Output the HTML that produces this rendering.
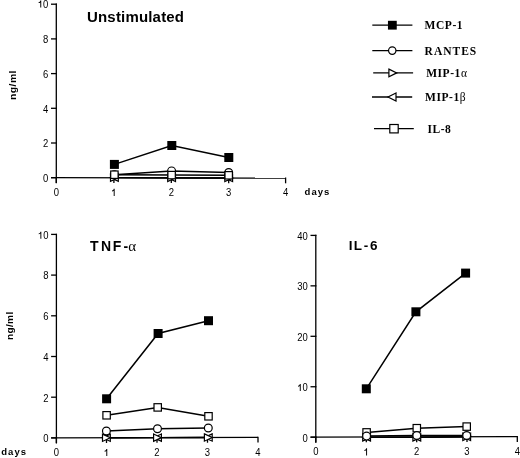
<!DOCTYPE html>
<html><head><meta charset="utf-8"><title>Chemokine production</title>
<style>
html,body{margin:0;padding:0;background:#fff;}
body{width:520px;height:458px;overflow:hidden;font-family:"Liberation Sans",sans-serif;}
svg{display:block;will-change:transform;}
</style></head>
<body>
<svg width="520" height="458" viewBox="0 0 520 458">
<rect width="520" height="458" fill="#fff"/>
<line x1="56.30" y1="3.60" x2="56.30" y2="183.30" stroke="#000" stroke-width="1.3"/>
<line x1="51.00" y1="177.70" x2="285.60" y2="178.10" stroke="#000" stroke-width="1.3"/>
<line x1="51.00" y1="177.70" x2="56.90" y2="177.70" stroke="#000" stroke-width="1.3"/>
<text transform="translate(43.12 182.05) scale(0.95 1)" font-family='"Liberation Sans", sans-serif' font-size="10">0</text>
<line x1="51.00" y1="143.00" x2="56.90" y2="143.00" stroke="#000" stroke-width="1.3"/>
<text transform="translate(43.12 147.35) scale(0.95 1)" font-family='"Liberation Sans", sans-serif' font-size="10">2</text>
<line x1="51.00" y1="108.30" x2="56.90" y2="108.30" stroke="#000" stroke-width="1.3"/>
<text transform="translate(43.12 112.65) scale(0.95 1)" font-family='"Liberation Sans", sans-serif' font-size="10">4</text>
<line x1="51.00" y1="73.60" x2="56.90" y2="73.60" stroke="#000" stroke-width="1.3"/>
<text transform="translate(43.12 77.95) scale(0.95 1)" font-family='"Liberation Sans", sans-serif' font-size="10">6</text>
<line x1="51.00" y1="38.90" x2="56.90" y2="38.90" stroke="#000" stroke-width="1.3"/>
<text transform="translate(43.12 43.25) scale(0.95 1)" font-family='"Liberation Sans", sans-serif' font-size="10">8</text>
<line x1="51.00" y1="4.20" x2="56.90" y2="4.20" stroke="#000" stroke-width="1.3"/>
<path d="M40.29 0.46 H41.24 V7.55 H40.29 V2.40 C39.84 2.80 39.24 3.00 38.59 3.10 V2.25 C39.59 2.10 40.19 1.55 40.29 0.46 Z" fill="#000"/>
<text transform="translate(43.12 7.55) scale(0.95 1)" font-family='"Liberation Sans", sans-serif' font-size="10">0</text>
<line x1="56.30" y1="177.10" x2="56.30" y2="182.90" stroke="#000" stroke-width="1.3"/>
<text transform="translate(53.66 195.90) scale(0.95 1)" font-family='"Liberation Sans", sans-serif' font-size="10">0</text>
<line x1="113.90" y1="177.20" x2="113.90" y2="183.00" stroke="#000" stroke-width="1.3"/>
<path d="M113.71 188.81 H114.66 V195.90 H113.71 V190.75 C113.26 191.15 112.66 191.35 112.01 191.45 V190.60 C113.01 190.45 113.61 189.90 113.71 188.81 Z" fill="#000"/>
<line x1="171.30" y1="177.30" x2="171.30" y2="183.10" stroke="#000" stroke-width="1.3"/>
<text transform="translate(168.66 195.90) scale(0.95 1)" font-family='"Liberation Sans", sans-serif' font-size="10">2</text>
<line x1="228.70" y1="177.40" x2="228.70" y2="183.20" stroke="#000" stroke-width="1.3"/>
<text transform="translate(226.06 195.90) scale(0.95 1)" font-family='"Liberation Sans", sans-serif' font-size="10">3</text>
<line x1="285.60" y1="177.50" x2="285.60" y2="183.30" stroke="#000" stroke-width="1.3"/>
<text transform="translate(282.96 195.90) scale(0.95 1)" font-family='"Liberation Sans", sans-serif' font-size="10">4</text>
<text x="87" y="21.6" font-family='"Liberation Sans", sans-serif' font-size="15" font-weight="bold" letter-spacing="0.18">Unstimulated</text>
<path d="M114.40 177.70 L171.60 177.80 L228.70 178.00" fill="none" stroke="#000" stroke-width="1.3"/>
<path d="M114.40 177.70 L171.60 177.80 L228.70 178.00" fill="none" stroke="#000" stroke-width="1.3"/>
<path d="M114.40 174.70 L171.60 170.90 L228.70 172.50" fill="none" stroke="#000" stroke-width="1.5"/>
<path d="M114.40 174.70 L171.60 175.10 L228.70 175.30" fill="none" stroke="#000" stroke-width="1.5"/>
<path d="M114.40 164.40 L171.80 145.50 L228.80 157.50" fill="none" stroke="#000" stroke-width="1.5"/>
<path d="M118.30 174.05 L110.50 177.70 L118.30 181.35 Z" fill="#fff" stroke="#000" stroke-width="1.2" stroke-linejoin="miter"/>
<path d="M175.50 174.15 L167.70 177.80 L175.50 181.45 Z" fill="#fff" stroke="#000" stroke-width="1.2" stroke-linejoin="miter"/>
<path d="M232.60 174.35 L224.80 178.00 L232.60 181.65 Z" fill="#fff" stroke="#000" stroke-width="1.2" stroke-linejoin="miter"/>
<path d="M110.50 174.05 L118.30 177.70 L110.50 181.35 Z" fill="#fff" stroke="#000" stroke-width="1.2" stroke-linejoin="miter"/>
<path d="M167.70 174.15 L175.50 177.80 L167.70 181.45 Z" fill="#fff" stroke="#000" stroke-width="1.2" stroke-linejoin="miter"/>
<path d="M224.80 174.35 L232.60 178.00 L224.80 181.65 Z" fill="#fff" stroke="#000" stroke-width="1.2" stroke-linejoin="miter"/>
<circle cx="114.40" cy="174.70" r="3.90" fill="#fff" stroke="#000" stroke-width="1.2"/>
<circle cx="171.60" cy="170.90" r="3.90" fill="#fff" stroke="#000" stroke-width="1.2"/>
<circle cx="228.70" cy="172.50" r="3.90" fill="#fff" stroke="#000" stroke-width="1.2"/>
<rect x="110.70" y="171.00" width="7.40" height="7.40" fill="#fff" stroke="#000" stroke-width="1.2"/>
<rect x="167.90" y="171.40" width="7.40" height="7.40" fill="#fff" stroke="#000" stroke-width="1.2"/>
<rect x="225.00" y="171.60" width="7.40" height="7.40" fill="#fff" stroke="#000" stroke-width="1.2"/>
<rect x="109.90" y="159.90" width="9" height="9" fill="#000"/>
<rect x="167.30" y="141.00" width="9" height="9" fill="#000"/>
<rect x="224.30" y="153.00" width="9" height="9" fill="#000"/>
<text x="304.60" y="194.60" font-family='"Liberation Sans", sans-serif' font-size="9.5" font-weight="bold" text-anchor="start" letter-spacing="1.05" >days</text>
<text transform="translate(15.5 100) rotate(-90) scale(1.15 1)" font-family='"Liberation Sans", sans-serif' font-size="9" font-weight="bold" letter-spacing="0.4">ng/ml</text>
<line x1="56.40" y1="233.80" x2="56.40" y2="443.50" stroke="#000" stroke-width="1.3"/>
<line x1="51.10" y1="437.90" x2="258.00" y2="437.40" stroke="#000" stroke-width="1.3"/>
<line x1="51.10" y1="437.90" x2="57.00" y2="437.90" stroke="#000" stroke-width="1.3"/>
<text transform="translate(43.22 442.25) scale(0.95 1)" font-family='"Liberation Sans", sans-serif' font-size="10">0</text>
<line x1="51.10" y1="397.20" x2="57.00" y2="397.20" stroke="#000" stroke-width="1.3"/>
<text transform="translate(43.22 401.55) scale(0.95 1)" font-family='"Liberation Sans", sans-serif' font-size="10">2</text>
<line x1="51.10" y1="356.50" x2="57.00" y2="356.50" stroke="#000" stroke-width="1.3"/>
<text transform="translate(43.22 360.85) scale(0.95 1)" font-family='"Liberation Sans", sans-serif' font-size="10">4</text>
<line x1="51.10" y1="315.80" x2="57.00" y2="315.80" stroke="#000" stroke-width="1.3"/>
<text transform="translate(43.22 320.15) scale(0.95 1)" font-family='"Liberation Sans", sans-serif' font-size="10">6</text>
<line x1="51.10" y1="275.10" x2="57.00" y2="275.10" stroke="#000" stroke-width="1.3"/>
<text transform="translate(43.22 279.45) scale(0.95 1)" font-family='"Liberation Sans", sans-serif' font-size="10">8</text>
<line x1="51.10" y1="234.40" x2="57.00" y2="234.40" stroke="#000" stroke-width="1.3"/>
<path d="M40.39 231.66 H41.34 V238.75 H40.39 V233.60 C39.94 234.00 39.34 234.20 38.69 234.30 V233.45 C39.69 233.30 40.29 232.75 40.39 231.66 Z" fill="#000"/>
<text transform="translate(43.22 238.75) scale(0.95 1)" font-family='"Liberation Sans", sans-serif' font-size="10">0</text>
<line x1="56.40" y1="437.30" x2="56.40" y2="443.10" stroke="#000" stroke-width="1.3"/>
<text transform="translate(53.76 456.10) scale(0.95 1)" font-family='"Liberation Sans", sans-serif' font-size="10">0</text>
<line x1="106.50" y1="437.18" x2="106.50" y2="442.98" stroke="#000" stroke-width="1.3"/>
<path d="M106.31 449.01 H107.26 V456.10 H106.31 V450.95 C105.86 451.35 105.26 451.55 104.61 451.65 V450.80 C105.61 450.65 106.21 450.10 106.31 449.01 Z" fill="#000"/>
<line x1="157.00" y1="437.05" x2="157.00" y2="442.85" stroke="#000" stroke-width="1.3"/>
<text transform="translate(154.36 456.10) scale(0.95 1)" font-family='"Liberation Sans", sans-serif' font-size="10">2</text>
<line x1="207.50" y1="436.93" x2="207.50" y2="442.73" stroke="#000" stroke-width="1.3"/>
<text transform="translate(204.86 456.10) scale(0.95 1)" font-family='"Liberation Sans", sans-serif' font-size="10">3</text>
<line x1="258.00" y1="436.80" x2="258.00" y2="442.60" stroke="#000" stroke-width="1.3"/>
<text transform="translate(255.36 456.10) scale(0.95 1)" font-family='"Liberation Sans", sans-serif' font-size="10">4</text>
<text y="251" font-family='"Liberation Sans", sans-serif' font-size="14" font-weight="bold"><tspan x="89.9">T</tspan><tspan x="100.9">N</tspan><tspan x="112.7">F</tspan><tspan x="123.5">-</tspan><tspan x="128.3" font-weight="normal" font-family='"Liberation Serif", serif' font-size="15">&#945;</tspan></text>
<path d="M106.40 437.78 L157.50 437.65 L208.30 437.52" fill="none" stroke="#000" stroke-width="1.3"/>
<path d="M106.40 437.78 L157.50 437.65 L208.30 437.52" fill="none" stroke="#000" stroke-width="1.3"/>
<path d="M106.40 431.00 L157.50 428.70 L208.30 428.00" fill="none" stroke="#000" stroke-width="1.5"/>
<path d="M106.60 415.30 L157.70 407.40 L208.50 416.30" fill="none" stroke="#000" stroke-width="1.5"/>
<path d="M106.60 398.80 L158.10 333.50 L208.50 320.70" fill="none" stroke="#000" stroke-width="1.5"/>
<path d="M110.30 434.13 L102.50 437.78 L110.30 441.43 Z" fill="#fff" stroke="#000" stroke-width="1.2" stroke-linejoin="miter"/>
<path d="M161.40 434.00 L153.60 437.65 L161.40 441.30 Z" fill="#fff" stroke="#000" stroke-width="1.2" stroke-linejoin="miter"/>
<path d="M212.20 433.87 L204.40 437.52 L212.20 441.17 Z" fill="#fff" stroke="#000" stroke-width="1.2" stroke-linejoin="miter"/>
<path d="M102.50 434.13 L110.30 437.78 L102.50 441.43 Z" fill="#fff" stroke="#000" stroke-width="1.2" stroke-linejoin="miter"/>
<path d="M153.60 434.00 L161.40 437.65 L153.60 441.30 Z" fill="#fff" stroke="#000" stroke-width="1.2" stroke-linejoin="miter"/>
<path d="M204.40 433.87 L212.20 437.52 L204.40 441.17 Z" fill="#fff" stroke="#000" stroke-width="1.2" stroke-linejoin="miter"/>
<circle cx="106.40" cy="431.00" r="3.90" fill="#fff" stroke="#000" stroke-width="1.2"/>
<circle cx="157.50" cy="428.70" r="3.90" fill="#fff" stroke="#000" stroke-width="1.2"/>
<circle cx="208.30" cy="428.00" r="3.90" fill="#fff" stroke="#000" stroke-width="1.2"/>
<rect x="102.90" y="411.60" width="7.40" height="7.40" fill="#fff" stroke="#000" stroke-width="1.2"/>
<rect x="154.00" y="403.70" width="7.40" height="7.40" fill="#fff" stroke="#000" stroke-width="1.2"/>
<rect x="204.80" y="412.60" width="7.40" height="7.40" fill="#fff" stroke="#000" stroke-width="1.2"/>
<rect x="102.10" y="394.30" width="9" height="9" fill="#000"/>
<rect x="153.60" y="329.00" width="9" height="9" fill="#000"/>
<rect x="204.00" y="316.20" width="9" height="9" fill="#000"/>
<text x="1.30" y="454.60" font-family='"Liberation Sans", sans-serif' font-size="9.5" font-weight="bold" text-anchor="start" letter-spacing="1.0" >days</text>
<text transform="translate(13.2 340) rotate(-90) scale(1.12 1)" font-family='"Liberation Sans", sans-serif' font-size="9" font-weight="bold" letter-spacing="0.3">ng/ml</text>
<line x1="315.80" y1="234.80" x2="315.80" y2="442.80" stroke="#000" stroke-width="1.3"/>
<line x1="310.50" y1="437.20" x2="517.30" y2="436.70" stroke="#000" stroke-width="1.3"/>
<line x1="310.50" y1="437.20" x2="316.40" y2="437.20" stroke="#000" stroke-width="1.3"/>
<text transform="translate(302.62 441.55) scale(0.95 1)" font-family='"Liberation Sans", sans-serif' font-size="10">0</text>
<line x1="310.50" y1="386.75" x2="316.40" y2="386.75" stroke="#000" stroke-width="1.3"/>
<path d="M299.79 384.01 H300.74 V391.10 H299.79 V385.95 C299.34 386.35 298.74 386.55 298.09 386.65 V385.80 C299.09 385.65 299.69 385.10 299.79 384.01 Z" fill="#000"/>
<text transform="translate(302.62 391.10) scale(0.95 1)" font-family='"Liberation Sans", sans-serif' font-size="10">0</text>
<line x1="310.50" y1="336.30" x2="316.40" y2="336.30" stroke="#000" stroke-width="1.3"/>
<text transform="translate(297.34 340.65) scale(0.95 1)" font-family='"Liberation Sans", sans-serif' font-size="10">2</text>
<text transform="translate(302.62 340.65) scale(0.95 1)" font-family='"Liberation Sans", sans-serif' font-size="10">0</text>
<line x1="310.50" y1="285.85" x2="316.40" y2="285.85" stroke="#000" stroke-width="1.3"/>
<text transform="translate(297.34 290.20) scale(0.95 1)" font-family='"Liberation Sans", sans-serif' font-size="10">3</text>
<text transform="translate(302.62 290.20) scale(0.95 1)" font-family='"Liberation Sans", sans-serif' font-size="10">0</text>
<line x1="310.50" y1="235.40" x2="316.40" y2="235.40" stroke="#000" stroke-width="1.3"/>
<text transform="translate(297.34 239.75) scale(0.95 1)" font-family='"Liberation Sans", sans-serif' font-size="10">4</text>
<text transform="translate(302.62 239.75) scale(0.95 1)" font-family='"Liberation Sans", sans-serif' font-size="10">0</text>
<line x1="315.80" y1="436.60" x2="315.80" y2="442.40" stroke="#000" stroke-width="1.3"/>
<text transform="translate(313.16 455.40) scale(0.95 1)" font-family='"Liberation Sans", sans-serif' font-size="10">0</text>
<line x1="366.30" y1="436.47" x2="366.30" y2="442.27" stroke="#000" stroke-width="1.3"/>
<path d="M366.11 448.31 H367.06 V455.40 H366.11 V450.25 C365.66 450.65 365.06 450.85 364.41 450.95 V450.10 C365.41 449.95 366.01 449.40 366.11 448.31 Z" fill="#000"/>
<line x1="416.70" y1="436.35" x2="416.70" y2="442.15" stroke="#000" stroke-width="1.3"/>
<text transform="translate(414.06 455.40) scale(0.95 1)" font-family='"Liberation Sans", sans-serif' font-size="10">2</text>
<line x1="467.00" y1="436.22" x2="467.00" y2="442.02" stroke="#000" stroke-width="1.3"/>
<text transform="translate(464.36 455.40) scale(0.95 1)" font-family='"Liberation Sans", sans-serif' font-size="10">3</text>
<line x1="517.30" y1="436.10" x2="517.30" y2="441.90" stroke="#000" stroke-width="1.3"/>
<text transform="translate(514.66 455.40) scale(0.95 1)" font-family='"Liberation Sans", sans-serif' font-size="10">4</text>
<text y="249.6" font-family='"Liberation Sans", sans-serif' font-size="13.5" font-weight="bold"><tspan x="348.8">I</tspan><tspan x="353.7">L</tspan><tspan x="363.8">-</tspan><tspan x="370.1">6</tspan></text>
<path d="M366.60 432.40 L416.80 428.20 L466.70 426.60" fill="none" stroke="#000" stroke-width="1.5"/>
<path d="M366.60 437.40 L416.80 437.40 L466.70 436.80" fill="none" stroke="#000" stroke-width="1.3"/>
<path d="M366.60 437.40 L416.80 437.40 L466.70 436.80" fill="none" stroke="#000" stroke-width="1.3"/>
<path d="M366.60 436.10 L416.80 435.50 L466.70 435.50" fill="none" stroke="#000" stroke-width="1.5"/>
<path d="M366.30 388.80 L415.90 311.80 L465.60 273.10" fill="none" stroke="#000" stroke-width="1.5"/>
<rect x="362.90" y="428.70" width="7.40" height="7.40" fill="#fff" stroke="#000" stroke-width="1.2"/>
<rect x="413.10" y="424.50" width="7.40" height="7.40" fill="#fff" stroke="#000" stroke-width="1.2"/>
<rect x="463.00" y="422.90" width="7.40" height="7.40" fill="#fff" stroke="#000" stroke-width="1.2"/>
<path d="M370.50 433.75 L362.70 437.40 L370.50 441.05 Z" fill="#fff" stroke="#000" stroke-width="1.2" stroke-linejoin="miter"/>
<path d="M420.70 433.75 L412.90 437.40 L420.70 441.05 Z" fill="#fff" stroke="#000" stroke-width="1.2" stroke-linejoin="miter"/>
<path d="M470.60 433.15 L462.80 436.80 L470.60 440.45 Z" fill="#fff" stroke="#000" stroke-width="1.2" stroke-linejoin="miter"/>
<path d="M362.70 433.75 L370.50 437.40 L362.70 441.05 Z" fill="#fff" stroke="#000" stroke-width="1.2" stroke-linejoin="miter"/>
<path d="M412.90 433.75 L420.70 437.40 L412.90 441.05 Z" fill="#fff" stroke="#000" stroke-width="1.2" stroke-linejoin="miter"/>
<path d="M462.80 433.15 L470.60 436.80 L462.80 440.45 Z" fill="#fff" stroke="#000" stroke-width="1.2" stroke-linejoin="miter"/>
<circle cx="366.60" cy="436.10" r="3.90" fill="#fff" stroke="#000" stroke-width="1.2"/>
<circle cx="416.80" cy="435.50" r="3.90" fill="#fff" stroke="#000" stroke-width="1.2"/>
<circle cx="466.70" cy="435.50" r="3.90" fill="#fff" stroke="#000" stroke-width="1.2"/>
<rect x="361.80" y="384.30" width="9" height="9" fill="#000"/>
<rect x="411.40" y="307.30" width="9" height="9" fill="#000"/>
<rect x="461.10" y="268.60" width="9" height="9" fill="#000"/>
<line x1="372.30" y1="25.20" x2="412.40" y2="25.20" stroke="#000" stroke-width="1.3"/>
<rect x="387.95" y="20.80" width="8.8" height="8.8" fill="#000"/>
<text x="424.6" y="29.30" font-family='"Liberation Serif", serif' font-size="11.5" font-weight="bold" letter-spacing="0.55">MCP-1</text>
<line x1="372.30" y1="50.60" x2="412.40" y2="50.60" stroke="#000" stroke-width="1.3"/>
<circle cx="392.25" cy="50.60" r="3.70" fill="#fff" stroke="#000" stroke-width="1.2"/>
<text x="424.6" y="55.00" font-family='"Liberation Serif", serif' font-size="11.5" font-weight="bold" letter-spacing="1.0">RANTES</text>
<line x1="373.20" y1="72.90" x2="413.10" y2="72.90" stroke="#000" stroke-width="1.3"/>
<path d="M388.90 69.10 L396.70 72.90 L388.90 76.70 Z" fill="#fff" stroke="#000" stroke-width="1.2" stroke-linejoin="miter"/>
<text x="426.2" y="76.80" font-family='"Liberation Serif", serif' font-size="11.5" font-weight="bold" letter-spacing="0.55">MIP-1<tspan font-weight="normal">&#945;</tspan></text>
<line x1="372.00" y1="97.00" x2="412.20" y2="97.00" stroke="#000" stroke-width="1.3"/>
<path d="M396.00 93.05 L388.00 97.00 L396.00 100.95 Z" fill="#fff" stroke="#000" stroke-width="1.2" stroke-linejoin="miter"/>
<text x="425" y="101.30" font-family='"Liberation Serif", serif' font-size="11.5" font-weight="bold" letter-spacing="0.55">MIP-1<tspan font-weight="normal">&#946;</tspan></text>
<line x1="374.00" y1="128.70" x2="413.80" y2="128.70" stroke="#000" stroke-width="1.3"/>
<rect x="389.80" y="124.50" width="8.40" height="8.40" fill="#fff" stroke="#000" stroke-width="1.2"/>
<text x="427.4" y="132.60" font-family='"Liberation Serif", serif' font-size="11.5" font-weight="bold" letter-spacing="0.55">IL-8</text>
</svg>
</body></html>
